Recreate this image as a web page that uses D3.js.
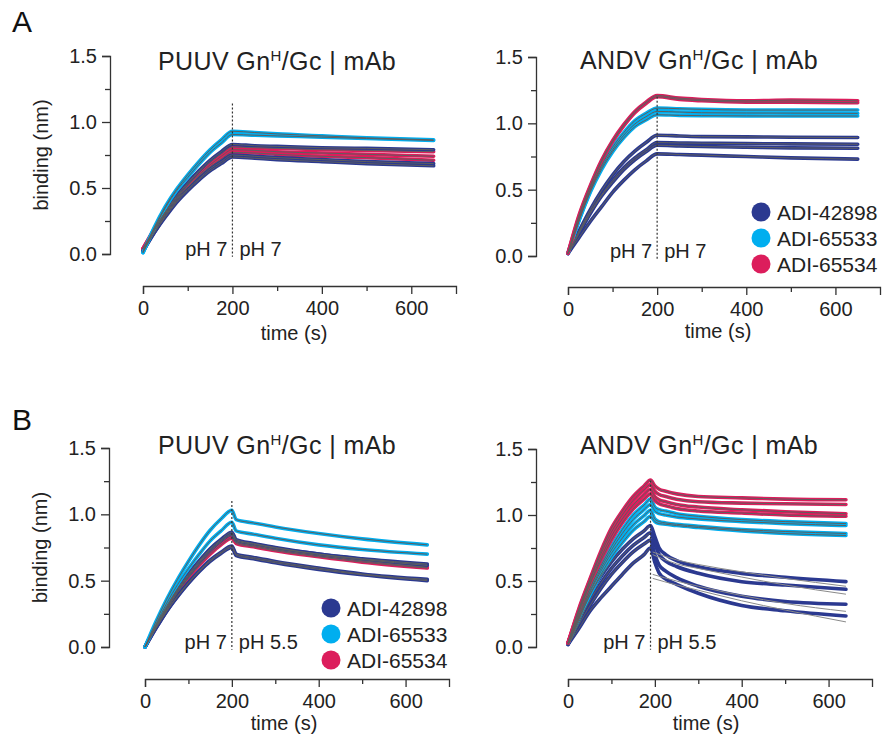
<!DOCTYPE html>
<html>
<head>
<meta charset="utf-8">
<script src="https://cdn.jsdelivr.net/npm/d3@7"></script>
<style>
body { margin: 0; background: #fff; }
svg { display: block; font-family: "Liberation Sans", Arial, sans-serif; }
</style>
</head>
<body>
<svg width="883" height="742"></svg>
<script>
// BLI sensorgrams
const antibodies = ["ADI-42898", "ADI-65533", "ADI-65534"];
const abColors = ["#2b3990", "#00aeef", "#dc1d5c"];

const yMajor = [0, 0.5, 1.0, 1.5];
const yMinor = [0.25, 0.75, 1.25];
const xMajor = [0, 200, 400, 600];
const xMinor = [100, 300, 500];

// A: pH 7 -> pH 7
const timesA = [0, 25, 50, 75, 100, 125, 150, 175, 200, 250, 300, 400, 500, 650];

const puuv7_42898 = [
  [0.02, 0.18, 0.32, 0.44, 0.54, 0.63, 0.71, 0.775, 0.83, 0.82, 0.815, 0.805, 0.80, 0.79],
  [0.02, 0.16, 0.29, 0.40, 0.49, 0.57, 0.645, 0.70, 0.75, 0.74, 0.73, 0.715, 0.70, 0.685],
  [0.02, 0.16, 0.28, 0.39, 0.48, 0.56, 0.63, 0.685, 0.735, 0.725, 0.715, 0.70, 0.685, 0.668]
];
const puuv7_65533 = [
  [0.01, 0.20, 0.36, 0.49, 0.60, 0.70, 0.79, 0.865, 0.93, 0.92, 0.91, 0.895, 0.88, 0.865],
  [0.01, 0.19, 0.35, 0.48, 0.58, 0.68, 0.77, 0.84, 0.905, 0.90, 0.895, 0.885, 0.875, 0.86]
];
const puuv7_65534 = [
  [0.04, 0.19, 0.32, 0.43, 0.53, 0.62, 0.695, 0.76, 0.81, 0.805, 0.80, 0.79, 0.785, 0.775],
  [0.04, 0.18, 0.31, 0.42, 0.52, 0.60, 0.675, 0.74, 0.79, 0.785, 0.775, 0.765, 0.755, 0.74],
  [0.04, 0.18, 0.30, 0.41, 0.505, 0.59, 0.66, 0.72, 0.77, 0.765, 0.755, 0.74, 0.73, 0.71]
];

const andv7_42898 = [
  [0.02, 0.19, 0.35, 0.49, 0.61, 0.71, 0.79, 0.855, 0.91, 0.905, 0.90, 0.898, 0.895, 0.893],
  [0.02, 0.18, 0.33, 0.46, 0.57, 0.665, 0.74, 0.80, 0.855, 0.852, 0.85, 0.847, 0.845, 0.842],
  [0.02, 0.17, 0.32, 0.45, 0.555, 0.65, 0.725, 0.785, 0.835, 0.83, 0.825, 0.82, 0.815, 0.812],
  [0.02, 0.14, 0.26, 0.37, 0.48, 0.57, 0.65, 0.715, 0.77, 0.765, 0.76, 0.75, 0.74, 0.73]
];
const andv7_65533 = [
  [0.02, 0.28, 0.50, 0.68, 0.82, 0.93, 1.02, 1.075, 1.115, 1.11, 1.105, 1.10, 1.10, 1.10],
  [0.02, 0.27, 0.49, 0.665, 0.80, 0.91, 0.995, 1.05, 1.09, 1.085, 1.08, 1.078, 1.077, 1.075],
  [0.02, 0.27, 0.48, 0.65, 0.785, 0.89, 0.975, 1.025, 1.065, 1.06, 1.058, 1.056, 1.055, 1.055]
];
const andv7_65534 = [
  [0.02, 0.31, 0.53, 0.72, 0.87, 0.99, 1.09, 1.16, 1.21, 1.19, 1.18, 1.17, 1.175, 1.17],
  [0.02, 0.30, 0.52, 0.71, 0.86, 0.98, 1.08, 1.15, 1.20, 1.18, 1.17, 1.16, 1.16, 1.155]
];

// B: pH 7 -> pH 5.5
const timesB = [0, 25, 50, 75, 100, 125, 150, 175, 200, 210, 250, 300, 400, 500, 650];

const puuv55_42898 = [
  [0.0, 0.16, 0.31, 0.44, 0.55, 0.65, 0.74, 0.81, 0.865, 0.81, 0.78, 0.75, 0.70, 0.665, 0.625],
  [0.0, 0.16, 0.30, 0.43, 0.54, 0.64, 0.73, 0.80, 0.85, 0.80, 0.775, 0.745, 0.70, 0.66, 0.615],
  [0.0, 0.14, 0.27, 0.385, 0.485, 0.575, 0.655, 0.715, 0.76, 0.70, 0.675, 0.645, 0.595, 0.55, 0.51],
  [0.0, 0.14, 0.27, 0.38, 0.48, 0.57, 0.645, 0.705, 0.75, 0.69, 0.665, 0.635, 0.585, 0.545, 0.50]
];
const puuv55_65533 = [
  [0.0, 0.19, 0.36, 0.51, 0.645, 0.77, 0.88, 0.965, 1.03, 0.96, 0.935, 0.905, 0.856, 0.815, 0.77],
  [0.0, 0.17, 0.33, 0.47, 0.59, 0.70, 0.80, 0.875, 0.94, 0.875, 0.85, 0.82, 0.77, 0.735, 0.70]
];
const puuv55_65534 = [
  [0.0, 0.15, 0.29, 0.42, 0.53, 0.63, 0.72, 0.79, 0.84, 0.79, 0.765, 0.735, 0.69, 0.65, 0.60],
  [0.0, 0.15, 0.28, 0.41, 0.52, 0.615, 0.70, 0.77, 0.82, 0.78, 0.755, 0.725, 0.68, 0.64, 0.595]
];

const timesC = [0, 25, 50, 75, 100, 125, 150, 175, 190, 200, 210, 225, 250, 300, 400, 500, 640];

const andv55_42898 = [
  [0.02, 0.21, 0.39, 0.53, 0.645, 0.74, 0.82, 0.88, 0.92, 0.836, 0.75, 0.70, 0.655, 0.608, 0.558, 0.528, 0.495],
  [0.02, 0.19, 0.35, 0.48, 0.595, 0.69, 0.77, 0.83, 0.865, 0.78, 0.70, 0.65, 0.61, 0.558, 0.495, 0.47, 0.437],
  [0.02, 0.17, 0.31, 0.44, 0.55, 0.64, 0.72, 0.78, 0.81, 0.70, 0.62, 0.575, 0.525, 0.46, 0.385, 0.345, 0.324],
  [0.02, 0.14, 0.27, 0.37, 0.46, 0.55, 0.635, 0.70, 0.75, 0.64, 0.56, 0.515, 0.475, 0.407, 0.315, 0.275, 0.235]
];
const andv55_65533 = [
  [0.03, 0.24, 0.44, 0.61, 0.76, 0.89, 1.0, 1.075, 1.12, 1.06, 1.04, 1.03, 1.01, 0.99, 0.965, 0.95, 0.935],
  [0.03, 0.23, 0.42, 0.59, 0.735, 0.86, 0.965, 1.04, 1.08, 1.03, 1.01, 1.00, 0.985, 0.97, 0.95, 0.935, 0.92],
  [0.03, 0.22, 0.41, 0.57, 0.71, 0.825, 0.925, 0.995, 1.035, 0.97, 0.95, 0.94, 0.93, 0.915, 0.89, 0.875, 0.86],
  [0.03, 0.21, 0.39, 0.545, 0.68, 0.79, 0.885, 0.95, 0.99, 0.95, 0.935, 0.93, 0.92, 0.905, 0.88, 0.86, 0.845]
];
const andv55_65534 = [
  [0.03, 0.29, 0.51, 0.72, 0.90, 1.03, 1.14, 1.22, 1.265, 1.22, 1.195, 1.18, 1.16, 1.14, 1.13, 1.12, 1.115],
  [0.03, 0.28, 0.50, 0.70, 0.87, 1.00, 1.11, 1.19, 1.23, 1.18, 1.155, 1.14, 1.12, 1.10, 1.09, 1.085, 1.08],
  [0.03, 0.27, 0.48, 0.67, 0.84, 0.97, 1.075, 1.155, 1.195, 1.14, 1.115, 1.10, 1.08, 1.06, 1.04, 1.025, 1.01],
  [0.03, 0.26, 0.47, 0.65, 0.81, 0.94, 1.045, 1.12, 1.16, 1.11, 1.085, 1.07, 1.05, 1.03, 1.015, 1.0, 0.99]
];
// the fits for ADI-42898 at pH 5.5 miss the fast drop
const fitTimes = [195, 250, 300, 400, 500, 640];
const andv55_42898_fit = [
  [0.72, 0.66, 0.625, 0.57, 0.52, 0.46],
  [0.70, 0.63, 0.595, 0.53, 0.47, 0.40],
  [0.55, 0.50, 0.46, 0.39, 0.33, 0.27],
  [0.52, 0.47, 0.43, 0.35, 0.28, 0.19]
];

const font = '"Liberation Sans", Arial, sans-serif';
const svg = d3.select('svg');

// sets: [antibody index, traces] in drawing order
const panels = [
  {letter: 'A', letterY: 32, virus: 'PUUV', x0: 143, x1: 456, yTop: 56, yBot: 254, yAxisX: 110, xAxisY: 286,
   titleX: 277, titleY: 70, timeX: 294, timeY: 340, switchT: 200, dotTop: 1.14, ph2: 'pH 7',
   times: timesA, sets: [[2, puuv7_65534], [0, puuv7_42898], [1, puuv7_65533]], yLabel: true},
  {virus: 'ANDV', x0: 568, x1: 880, yTop: 57, yBot: 256, yAxisX: 536, xAxisY: 287,
   titleX: 699, titleY: 69, timeX: 718, timeY: 338, switchT: 200, dotTop: 1.2, ph2: 'pH 7',
   times: timesA, sets: [[0, andv7_42898], [1, andv7_65533], [2, andv7_65534]],
   legend: {x: 761, y: 212}},
  {letter: 'B', letterY: 430, virus: 'PUUV', x0: 145, x1: 449, yTop: 448, yBot: 647, yAxisX: 109, xAxisY: 679,
   titleX: 277, titleY: 454, timeX: 284, timeY: 730, switchT: 200, dotTop: 1.1, ph2: 'pH 5.5',
   times: timesB, sets: [[2, puuv55_65534], [0, puuv55_42898], [1, puuv55_65533]], yLabel: true,
   legend: {x: 331, y: 608}},
  {virus: 'ANDV', x0: 568, x1: 872, yTop: 449, yBot: 647, yAxisX: 536, xAxisY: 679,
   titleX: 699, titleY: 454, timeX: 706, timeY: 730, switchT: 190, dotTop: 1.26, ph2: 'pH 5.5',
   times: timesC, sets: [[0, andv55_42898], [1, andv55_65533], [2, andv55_65534]],
   fits: andv55_42898_fit}
];

const styleAxis = (ax) => {
  ax.attr('font-size', 20).attr('font-family', font);
  ax.selectAll('path, line').attr('stroke', '#333').attr('stroke-width', 1.3);
  ax.selectAll('text').attr('fill', '#222');
};

const drawPanel = (p) => {
  const x = d3.scaleLinear().domain([0, 700]).range([p.x0, p.x1]);
  const y = d3.scaleLinear().domain([0, 1.5]).range([p.yBot, p.yTop]);
  const g = svg.append('g');

  // axes, major + minor ticks
  g.append('g').attr('transform', `translate(${p.yAxisX},0)`)
    .call(d3.axisLeft(y).tickValues(yMajor).tickSize(8).tickPadding(5).tickFormat(d3.format('.1f')))
    .call(styleAxis);
  g.append('g').attr('transform', `translate(${p.yAxisX},0)`)
    .call(d3.axisLeft(y).tickValues(yMinor).tickSize(5).tickFormat(''))
    .call(styleAxis)
    .select('.domain').remove();
  g.append('g').attr('transform', `translate(0,${p.xAxisY})`)
    .call(d3.axisBottom(x).tickValues(xMajor).tickSize(8).tickPadding(7))
    .call(styleAxis);
  g.append('g').attr('transform', `translate(0,${p.xAxisY})`)
    .call(d3.axisBottom(x).tickValues(xMinor).tickSize(5).tickFormat(''))
    .call(styleAxis)
    .select('.domain').remove();

  const line = d3.line()
    .x(d => x(d[0]))
    .y(d => y(d[1]))
    .curve(d3.curveMonotoneX);
  const toPts = (ts, vals) => vals.map((v, i) => [ts[i], v]);

  // coloured traces
  p.sets.forEach(([ab, traces]) => {
    g.append('g').selectAll('path')
      .data(traces)
      .join('path')
      .attr('d', vals => line(toPts(p.times, vals)))
      .attr('fill', 'none')
      .attr('stroke', abColors[ab])
      .attr('stroke-width', 3.6)
      .attr('stroke-linejoin', 'round')
      .attr('stroke-linecap', 'round');
  });

  // grey fits on top
  const fitG = g.append('g').attr('fill', 'none').attr('stroke', '#5e5e5e').attr('stroke-width', 1);
  p.sets.forEach(([ab, traces]) => {
    traces.forEach(vals => {
      let pts = toPts(p.times, vals);
      if (p.fits && ab === 0) pts = pts.filter(d => d[0] <= p.switchT);
      fitG.append('path').attr('d', line(pts));
    });
  });
  if (p.fits) {
    p.fits.forEach(vals => {
      fitG.append('path')
        .attr('d', line(toPts(fitTimes, vals)))
        .attr('stroke', '#8a8a8a');
    });
  }

  // buffer switch
  g.append('line')
    .attr('x1', x(p.switchT)).attr('x2', x(p.switchT))
    .attr('y1', y(p.dotTop)).attr('y2', y(-0.02))
    .attr('stroke', '#333').attr('stroke-width', 1.2)
    .attr('stroke-dasharray', '2,2');

  const phY = p.yBot + 2;
  g.append('text').attr('x', x(p.switchT) - 5).attr('y', phY)
    .attr('text-anchor', 'end').attr('font-size', 20).attr('fill', '#222').text('pH 7');
  g.append('text').attr('x', x(p.switchT) + 7).attr('y', phY)
    .attr('font-size', 20).attr('fill', '#222').text(p.ph2);

  // title
  const t = g.append('text').attr('x', p.titleX).attr('y', p.titleY)
    .attr('text-anchor', 'middle').attr('font-size', 25).attr('letter-spacing', 0.4).attr('fill', '#222');
  t.append('tspan').text(p.virus + ' Gn');
  t.append('tspan').attr('font-size', 15).attr('dy', -9).text('H');
  t.append('tspan').attr('dy', 9).text('/Gc | mAb');

  g.append('text').attr('x', p.timeX).attr('y', p.timeY)
    .attr('text-anchor', 'middle').attr('font-size', 20).attr('fill', '#222').text('time (s)');

  if (p.yLabel) {
    const cy = (p.yTop + p.yBot) / 2;
    g.append('text')
      .attr('transform', `translate(${p.yAxisX - 62},${cy}) rotate(-90)`)
      .attr('text-anchor', 'middle').attr('font-size', 20).attr('fill', '#222')
      .text('binding (nm)');
  }

  if (p.letter) {
    svg.append('text').attr('x', 12).attr('y', p.letterY)
      .attr('font-size', 30).attr('fill', '#111').text(p.letter);
  }

  if (p.legend) {
    const lg = g.append('g').attr('transform', `translate(${p.legend.x},${p.legend.y})`);
    const item = lg.selectAll('g').data(antibodies).join('g')
      .attr('transform', (d, i) => `translate(0,${i * 26})`);
    item.append('circle').attr('r', 9.5).attr('fill', (d, i) => abColors[i]);
    item.append('text').attr('x', 16).attr('dy', '0.36em')
      .attr('font-size', 21).attr('fill', '#222').text(d => d);
  }
};

panels.forEach(drawPanel);
</script>
</body>
</html>
